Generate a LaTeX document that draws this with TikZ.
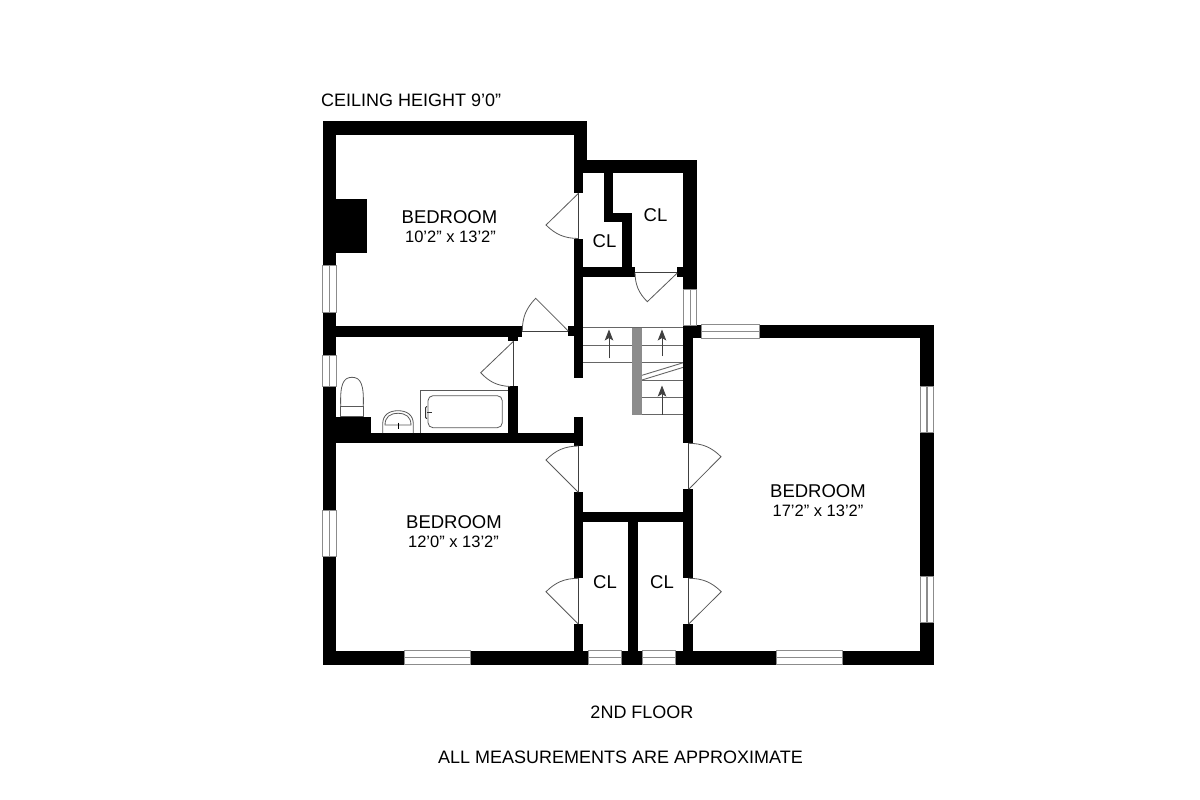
\documentclass[tikz,border=0pt]{standalone}
\usepackage{fontspec}
\setmainfont{Liberation Sans}
\usetikzlibrary{arrows.meta}
\tikzset{
  wall/.style={fill=black,draw=none},
  winfr/.style={draw=black!45,line width=0.9pt,fill=white},
  winln/.style={draw=black!45,line width=1.1pt},
  door/.style={draw=black!75,line width=0.8pt},
  leaf/.style={draw=black!65,line width=0.8pt},
  fixture/.style={draw=black!65,line width=0.8pt},
  tread/.style={draw=black!60,line width=0.9pt},
  uparrow/.style={draw=black!75,line width=0.8pt,-{Stealth[length=11pt,width=8.5pt,inset=2.5pt]}},
  roomlabel/.style={font=\fontsize{18.5}{20}\selectfont,inner sep=0pt},
  dimlabel/.style={font=\fontsize{16.5}{18}\selectfont,inner sep=0pt},
  note/.style={font=\fontsize{18}{20}\selectfont,inner sep=0pt}
}
\newcommand{\wl}[4]{\fill[wall] (#1,#2) rectangle (#3,#4);}
\newcommand{\winv}[3]{\draw[winfr] (#1-6.7,#2) rectangle (#1+6.7,#3); \draw[winln] (#1,#2) -- (#1,#3);}
\newcommand{\winh}[3]{\draw[winfr] (#1,#3-7) rectangle (#2,#3+7); \draw[winln] (#1,#3) -- (#2,#3);}
\begin{document}
\begin{tikzpicture}[x=1pt,y=-1pt]
\useasboundingbox (0,0) rectangle (1200,800);
\fill[white] (0,0) rectangle (1200,800);
% stairs
\draw[tread] (583,327.7) -- (683,327.7);
\draw[tread] (583,345) -- (683,345);
\draw[tread] (583,362.7) -- (683,362.7);
\draw[tread] (642,375.3) -- (683.3,362.7);
\draw[tread] (642,380) -- (683.3,367.3);
\draw[tread] (642,380) -- (683,380);
\draw[tread] (642,397.3) -- (683,397.3);
\draw[tread] (642,414.7) -- (683,414.7);
\fill[black!45] (632.3,327.7) rectangle (642,414.7);
\coordinate (a1s) at (609,358.3); \coordinate (a1e) at (609,329.5);
\coordinate (a2s) at (662,356); \coordinate (a2e) at (662,329.5);
\coordinate (a3s) at (662,414.7); \coordinate (a3e) at (662,385.5);
\draw[uparrow] (a1s) -- (a1e);
\draw[uparrow] (a2s) -- (a2e);
\draw[uparrow] (a3s) -- (a3e);
% outer walls
\wl{322.7}{120.7}{587}{135}
\wl{322.7}{120.7}{336.3}{265.7}
\wl{322.7}{312}{336.3}{355}
\wl{322.7}{386.7}{336.3}{510}
\wl{322.7}{556}{336.3}{665}
\wl{322.7}{650.7}{404}{665}
\wl{470}{650.7}{588.3}{665}
\wl{621.7}{650.7}{642.3}{665}
\wl{675.7}{650.7}{776}{665}
\wl{842}{650.7}{934}{665}
\wl{920}{324.5}{934}{386.7}
\wl{920}{432.7}{934}{576}
\wl{920}{622.3}{934}{665}
\wl{759.5}{324.5}{934}{338.3}
\wl{683.3}{324.5}{701.7}{338.3}
% upper closets
\wl{573.7}{135}{587}{160}
\wl{573.7}{135}{583.3}{192.7}
\wl{573.7}{160}{697}{173.3}
\wl{683.3}{160}{697}{289.3}
\wl{603.7}{173}{613.3}{222.3}
\wl{603.7}{213.3}{631.7}{222.3}
\wl{621.7}{213.3}{631.7}{276.7}
\wl{573.7}{266.7}{635}{276.7}
\wl{677.3}{266.7}{684}{276.7}
\wl{573.5}{238.5}{583.3}{378.3}
\wl{568}{326.3}{574}{336}
% bath walls
\wl{336}{326}{522.3}{336.7}
\wl{508.3}{336}{518.3}{340.5}
\wl{508.3}{386}{518.3}{434}
\wl{336}{433.3}{574}{443.3}
\wl{573.5}{416.7}{583.3}{446}
\wl{336}{416.7}{370.7}{434}
\fill[wall] (336,199) rectangle (366.7,252.7);
% hall walls
\wl{683.3}{324.5}{693.3}{443.3}
\wl{573.5}{492.3}{583.3}{578.3}
\wl{683.3}{489.3}{693.3}{578.3}
\wl{573.5}{624}{583.3}{652}
\wl{683.3}{624}{693.3}{652}
\wl{583}{512.3}{684}{522.3}
\wl{628.3}{522}{638.3}{652}
% windows
\winv{329.5}{265.7}{312}
\winv{329.5}{355}{386.7}
\winv{329.5}{510}{556}
\winv{927}{386.7}{432.7}
\winv{927}{576}{622.3}
\winv{690.1}{289.3}{325}
\winh{404}{470}{657.8}
\winh{776}{842}{657.8}
\winh{588.3}{621.7}{657.8}
\winh{642.3}{675.7}{657.8}
\winh{701.7}{759.5}{331.5}
% doors: closed line, leaf, swing
\draw[door] (578.3,192.7) -- (578.3,238.5);
\draw[leaf] (578.3,193.5) -- (546,225) to[bend right=22] (578.3,238.5);
\draw[door] (635,272.3) -- (677.3,272.3);
\draw[leaf] (677.3,273) -- (647.3,301.7) to[bend left=22] (635,272.3);
\draw[door] (522.3,331.3) -- (568.3,331.3);
\draw[leaf] (568.3,331) -- (535.7,298.3) to[bend right=22] (522.3,331.3);
\draw[door] (513.3,340.5) -- (513.3,386);
\draw[leaf] (513.3,341.5) -- (480.7,372.7) to[bend right=22] (510,386.5);
\draw[door] (578.3,446) -- (578.3,492.3);
\draw[leaf] (578.3,492.3) -- (546,460) to[bend left=22] (578.3,446);
\draw[door] (688.7,443.3) -- (688.7,489.3);
\draw[leaf] (688.7,489.3) -- (721,456.7) to[bend right=22] (688.7,443.3);
\draw[door] (578.3,578.3) -- (578.3,624);
\draw[leaf] (578.3,624) -- (546,591.7) to[bend left=22] (578.3,578.3);
\draw[door] (688.7,578.3) -- (688.7,624);
\draw[leaf] (688.7,624) -- (721.3,591.7) to[bend right=22] (688.7,578.3);
% toilet
\draw[fixture,fill=white] (340.7,406) rectangle (363.3,416.7);
\draw[fixture] (340.7,406) .. controls (340,385) and (343,377.3) .. (352,377.3) .. controls (361,377.3) and (364,385) .. (363.3,406);
% sink
\draw[fixture] (382.7,433) -- (382.7,424) .. controls (382.7,415) and (389,410.7) .. (398,410.7) .. controls (407,410.7) and (413.3,415) .. (413.3,424) -- (413.3,433);
\draw[fixture] (385,425) .. controls (385,417) and (390,413.3) .. (398,413.3) .. controls (406,413.3) and (411,417) .. (411,425) -- cycle;
\draw[black,line width=1pt] (398.3,422.7) -- (398.3,429.3);
% tub
\draw[fixture] (420.3,433) -- (420.3,390) -- (508.3,390);
\draw[fixture,rounded corners=5pt] (428,395.7) rectangle (502.3,427.7);
\draw[black!80,line width=1pt,rounded corners=1pt] (427,406.7) -- (425.5,406.7) -- (425.5,418.3) -- (427,418.3);
\draw[black!80,line width=0.8pt] (427,412) -- (431.7,412);
% labels
\node[note,anchor=west] (ceil) at (321,100) {CEILING HEIGHT 9’0”};
\node[roomlabel] (r1) at (449.5,217) {BEDROOM};
\node[dimlabel] (d1) at (450.5,237) {10’2” x 13’2”};
\node[roomlabel] (r2) at (454,522) {BEDROOM};
\node[dimlabel] (d2) at (453.5,542) {12’0” x 13’2”};
\node[roomlabel] (r3) at (818,491) {BEDROOM};
\node[dimlabel] (d3) at (818,511) {17’2” x 13’2”};
\node[roomlabel] (c1) at (604.5,241) {CL};
\node[roomlabel] (c2) at (655.5,215.5) {CL};
\node[roomlabel] (c3) at (605,582) {CL};
\node[roomlabel] (c4) at (662,582) {CL};
\node[note] (f) at (642,712) {2ND FLOOR};
\node[note] (m) at (620.5,757) {ALL MEASUREMENTS ARE APPROXIMATE};
\end{tikzpicture}
\end{document}
